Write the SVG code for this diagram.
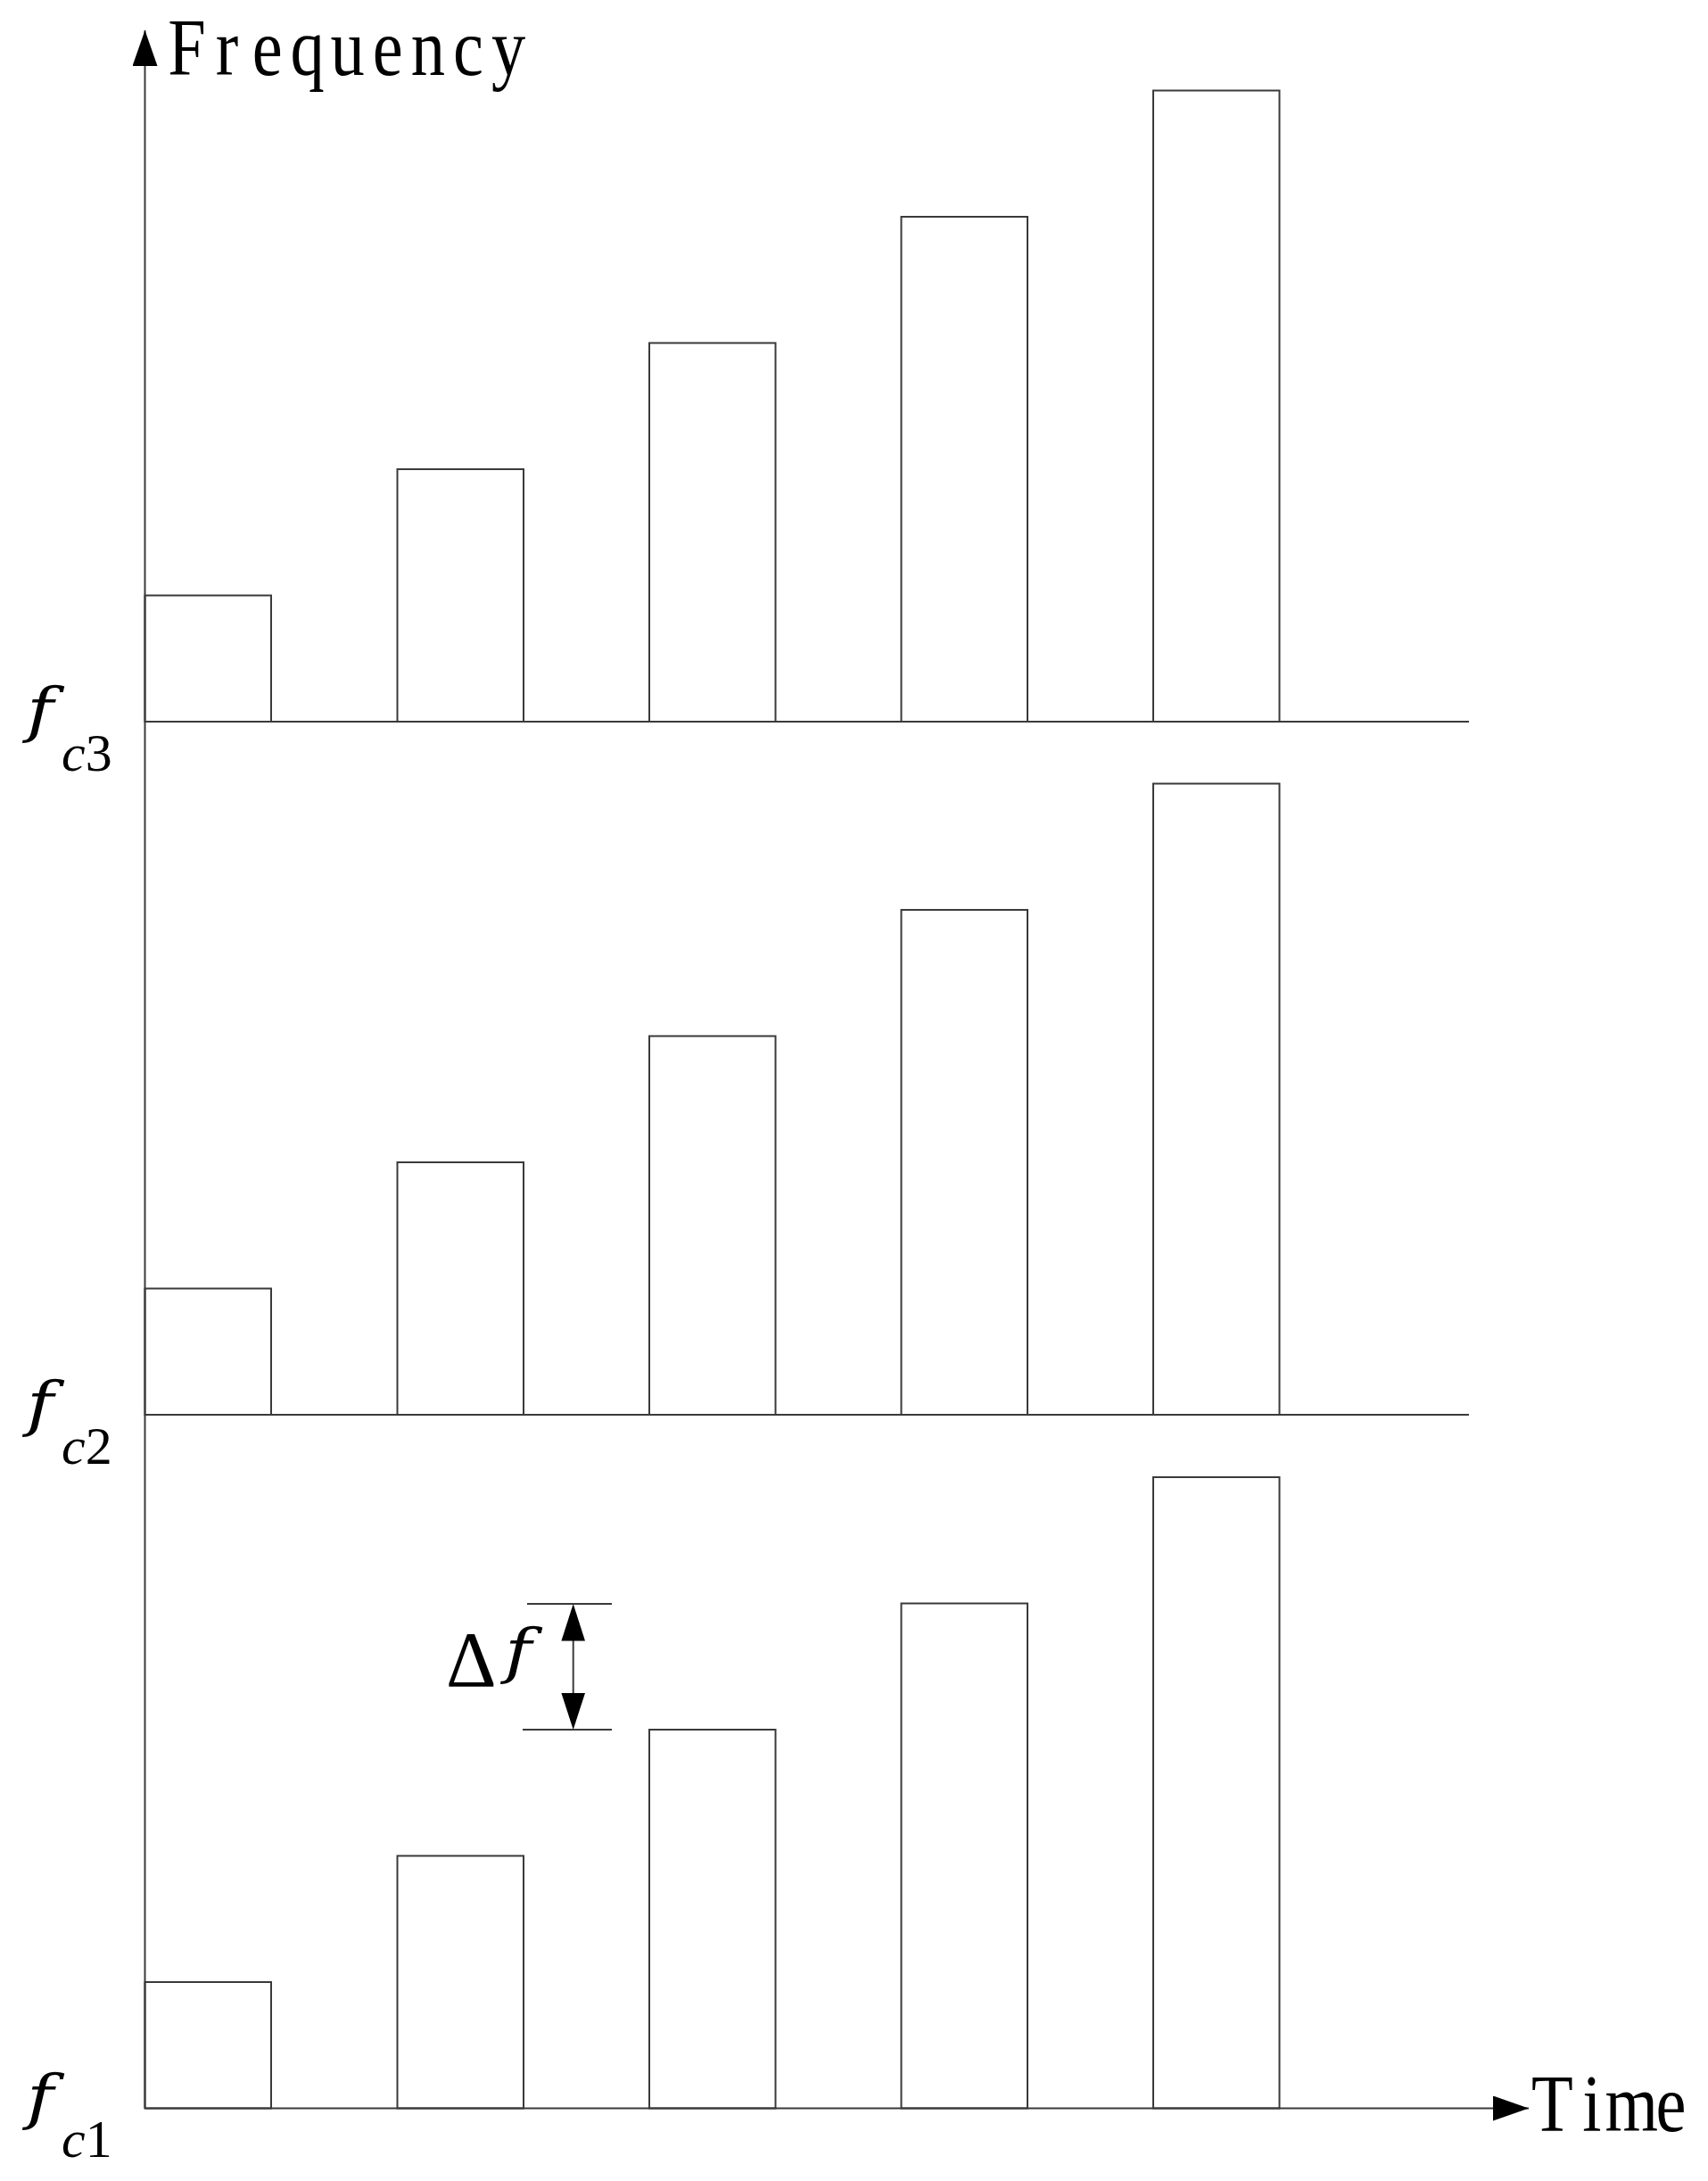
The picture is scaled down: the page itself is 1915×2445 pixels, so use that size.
<svg xmlns="http://www.w3.org/2000/svg" width="1915" height="2445" viewBox="0 0 1915 2445">
<style>
.ln{stroke:#3a3a3a;stroke-width:2;fill:none}
.bar{stroke:#3a3a3a;stroke-width:2;fill:none}
.lbl{font-family:"Liberation Serif",serif;fill:#000}
.ax{font-family:"Liberation Serif",serif;fill:#000;font-size:90px;text-anchor:middle}
.mf{font-family:"DejaVu Serif",serif;font-style:italic;fill:#000;font-size:68px}
.it{font-style:italic}
</style>
<defs>
<marker id="ah" markerUnits="userSpaceOnUse" markerWidth="42" markerHeight="28" refX="40" refY="14" orient="auto">
<path d="M0,0 L40,14 L0,28 Z" fill="#000"/>
</marker>
</defs>
<rect width="1915" height="2445" fill="#fff"/>
<g id="connectors">
<line class="ln" x1="162.5" y1="2363.5" x2="162.5" y2="34" marker-end="url(#ah)"/>
<line class="ln" x1="162.5" y1="2363.5" x2="1714" y2="2363.5" marker-end="url(#ah)"/>
<line class="ln" x1="162.5" y1="809" x2="1647" y2="809"/>
<line class="ln" x1="162.5" y1="1586" x2="1647" y2="1586"/>
<line class="ln" x1="591" y1="1798" x2="686" y2="1798"/>
<line class="ln" x1="586" y1="1939" x2="686" y2="1939"/>
<line class="ln" x1="642.7" y1="1839" x2="642.7" y2="1898"/>
<path d="M642.7,1798 L656,1839.5 L629.4,1839.5 Z" fill="#000"/>
<path d="M642.7,1939 L656,1898 L629.4,1898 Z" fill="#000"/>
</g>
<g id="group-fc3">
<rect class="bar" x="162.5" y="667.5" width="141.5" height="141.5"/>
<rect class="bar" x="445.5" y="526" width="141.5" height="283"/>
<rect class="bar" x="728" y="384.5" width="141.5" height="424.5"/>
<rect class="bar" x="1010.5" y="243" width="141.5" height="566"/>
<rect class="bar" x="1293" y="101.5" width="141.5" height="707.5"/>
</g>
<g id="group-fc2">
<rect class="bar" x="162.5" y="1444.5" width="141.5" height="141.5"/>
<rect class="bar" x="445.5" y="1303" width="141.5" height="283"/>
<rect class="bar" x="728" y="1161.5" width="141.5" height="424.5"/>
<rect class="bar" x="1010.5" y="1020" width="141.5" height="566"/>
<rect class="bar" x="1293" y="878.5" width="141.5" height="707.5"/>
</g>
<g id="group-fc1">
<rect class="bar" x="162.5" y="2222" width="141.5" height="141.5"/>
<rect class="bar" x="445.5" y="2080.5" width="141.5" height="283"/>
<rect class="bar" x="728" y="1939" width="141.5" height="424.5"/>
<rect class="bar" x="1010.5" y="1797.5" width="141.5" height="566"/>
<rect class="bar" x="1293" y="1656" width="141.5" height="707.5"/>
</g>
<g id="label-frequency" transform="scale(0.85,1)">
<text class="ax" x="246.5 299.5 352.5 405.5 458.5 511.5 564.6 617.5 670.6" y="84">Frequency</text>
</g>
<g id="label-time" transform="scale(0.85,1)">
<text class="ax" x="2047.6 2099.8 2152.0 2204.1" y="2389">Time</text>
</g>
<g id="label-fc3">
<text class="mf" transform="translate(30,819) scale(1.2,1)">f</text>
<text class="lbl" x="69" y="864" font-size="60"><tspan class="it">c</tspan>3</text>
</g>
<g id="label-fc2">
<text class="mf" transform="translate(30,1597) scale(1.2,1)">f</text>
<text class="lbl" x="69" y="1641" font-size="60"><tspan class="it">c</tspan>2</text>
</g>
<g id="label-fc1">
<text class="mf" transform="translate(30,2374) scale(1.2,1)">f</text>
<text class="lbl" x="69" y="2418" font-size="60"><tspan class="it">c</tspan>1</text>
</g>
<g id="label-delta-f">
<text class="lbl" x="500" y="1890" font-size="88">Δ</text>
<text class="mf" transform="translate(566,1874) scale(1.2,1)">f</text>
</g>
</svg>
